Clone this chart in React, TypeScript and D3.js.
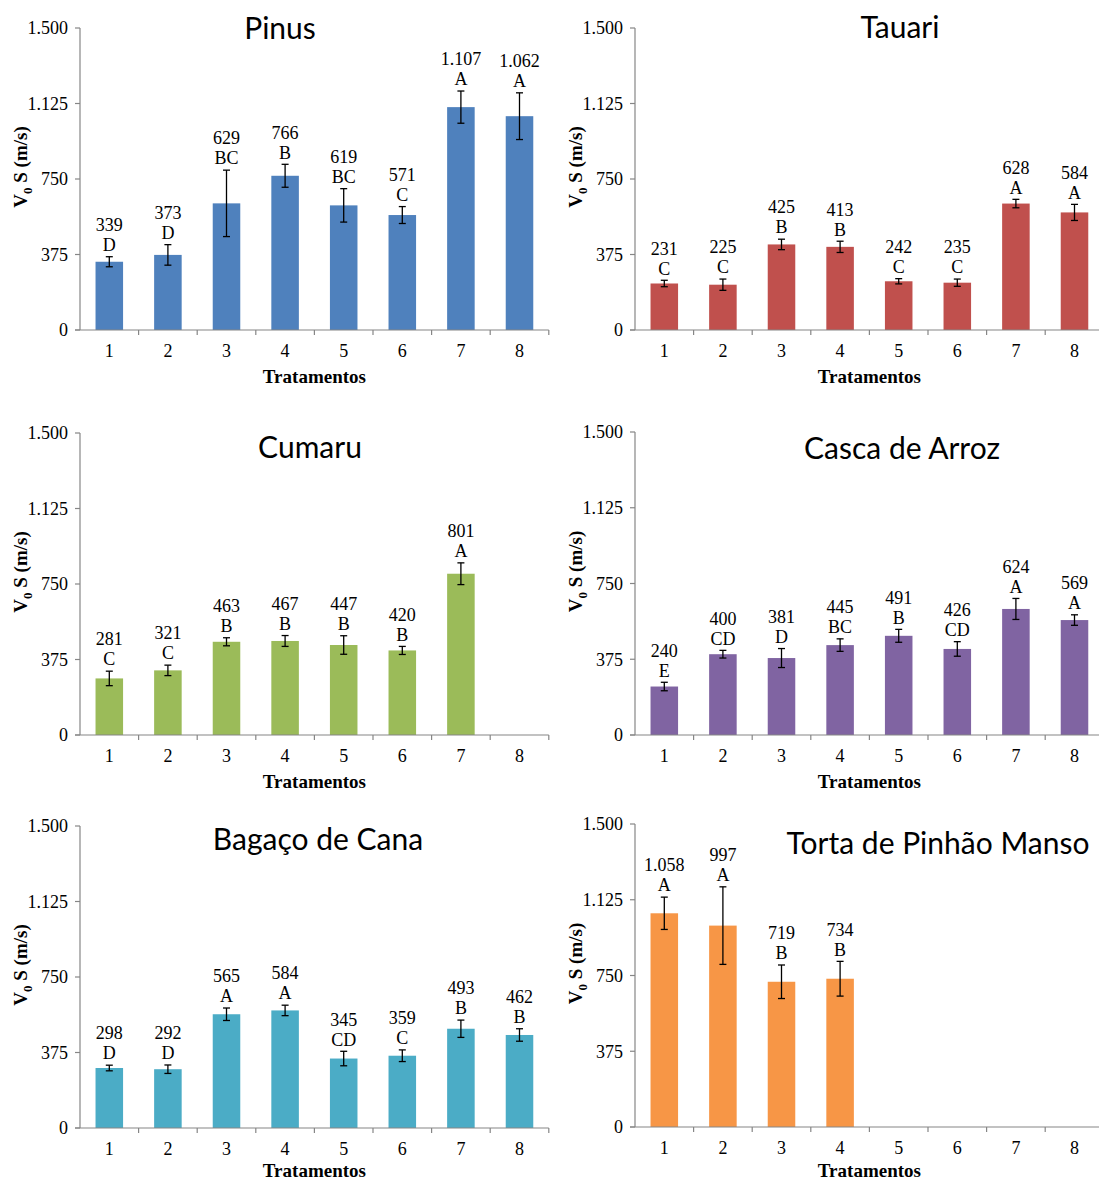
import React from "react";
import * as d3 from "d3";

const treatments = ["1", "2", "3", "4", "5", "6", "7", "8"];
const yTicks = [0, 375, 750, 1125, 1500];

const pinusMeans = [339, 373, 629, 766, 619, 571, 1107, 1062];
const pinusErr = [25, 51, 165, 57, 83, 42, 80, 116];
const pinusLetters = ["D", "D", "BC", "B", "BC", "C", "A", "A"];

const tauariMeans = [231, 225, 425, 413, 242, 235, 628, 584];
const tauariErr = [16, 28, 26, 28, 13, 18, 21, 40];
const tauariLetters = ["C", "C", "B", "B", "C", "C", "A", "A"];

const cumaruMeans = [281, 321, 463, 467, 447, 420, 801];
const cumaruErr = [36, 26, 20, 27, 46, 20, 54];
const cumaruLetters = ["C", "C", "B", "B", "B", "B", "A"];

const cascaMeans = [240, 400, 381, 445, 491, 426, 624, 569];
const cascaErr = [21, 19, 47, 31, 32, 36, 52, 26];
const cascaLetters = ["E", "CD", "D", "BC", "B", "CD", "A", "A"];

const bagacoMeans = [298, 292, 565, 584, 345, 359, 493, 462];
const bagacoErr = [14, 21, 31, 26, 36, 29, 43, 31];
const bagacoLetters = ["D", "D", "A", "A", "CD", "C", "B", "B"];

const tortaMeans = [1058, 997, 719, 734];
const tortaErr = [80, 192, 83, 86];
const tortaLetters = ["A", "A", "B", "B"];

const titles = ["Pinus", "Tauari", "Cumaru", "Casca de Arroz", "Bagaço de Cana", "Torta de Pinhão Manso"];
const colors = ["#4F81BD", "#C0504D", "#9BBB59", "#8064A2", "#4BACC6", "#F79646"];

const panelData = [
  { means: pinusMeans, err: pinusErr, letters: pinusLetters },
  { means: tauariMeans, err: tauariErr, letters: tauariLetters },
  { means: cumaruMeans, err: cumaruErr, letters: cumaruLetters },
  { means: cascaMeans, err: cascaErr, letters: cascaLetters },
  { means: bagacoMeans, err: bagacoErr, letters: bagacoLetters },
  { means: tortaMeans, err: tortaErr, letters: tortaLetters },
];

// layout: axis x, top (1500), bottom (0), title center x, title baseline y
const layout = [
  { x0: 80, top: 28, bottom: 330, tx: 280, ty: 39 },
  { x0: 635, top: 28, bottom: 330, tx: 900, ty: 38 },
  { x0: 80, top: 433, bottom: 735, tx: 310, ty: 458 },
  { x0: 635, top: 432, bottom: 735, tx: 902, ty: 459 },
  { x0: 80, top: 826, bottom: 1128, tx: 318, ty: 850 },
  { x0: 635, top: 824, bottom: 1127, tx: 938, ty: 854 },
];

const loc = d3.formatLocale({ decimal: ",", thousands: ".", grouping: [3], currency: ["R$", ""] });
const fmt = loc.format(",d");

const W = 1099;
const H = 1182;
const STEP = 58.6;
const AXIS = "#868686";
const SERIF = "'Liberation Serif', 'Times New Roman', serif";
const SANS = "Lato, 'Open Sans', sans-serif";

function Panel({ idx }: { idx: number }) {
  const L = layout[idx];
  const D = panelData[idx];
  const x = d3
    .scaleBand<string>()
    .domain(treatments)
    .range([L.x0, L.x0 + STEP * treatments.length])
    .paddingInner(0.53)
    .paddingOuter(0.265);
  const y = d3.scaleLinear().domain([0, 1500]).range([L.bottom, L.top]);
  const xEnd = L.x0 + STEP * treatments.length;
  const bw = x.bandwidth();
  const cx = (c: string) => (x(c) as number) + bw / 2;
  const midY = (L.top + L.bottom) / 2;
  const xTitleY = Math.min(L.bottom + 46, H - 12);
  return (
    <g>
      {D.means.map((v, i) => (
        <rect
          key={"b" + i}
          x={x(treatments[i])}
          y={y(v)}
          width={bw}
          height={y(0) - y(v)}
          fill={colors[idx]}
        />
      ))}
      <line x1={L.x0} x2={L.x0} y1={L.top} y2={L.bottom} stroke={AXIS} strokeWidth={1.2} />
      <line x1={L.x0 - 5} x2={xEnd} y1={L.bottom} y2={L.bottom} stroke={AXIS} strokeWidth={1.2} />
      {yTicks.map((t) => (
        <g key={"yt" + t}>
          <line x1={L.x0 - 5} x2={L.x0} y1={y(t)} y2={y(t)} stroke={AXIS} strokeWidth={1.2} />
          <text
            x={L.x0 - 12}
            y={y(t)}
            dy="0.35em"
            textAnchor="end"
            fontFamily={SERIF}
            fontSize={18}
            fill="#000"
          >
            {fmt(t)}
          </text>
        </g>
      ))}
      {treatments.map((c, i) => (
        <line
          key={"xt" + i}
          x1={L.x0 + STEP * (i + 1)}
          x2={L.x0 + STEP * (i + 1)}
          y1={L.bottom}
          y2={L.bottom + 5}
          stroke={AXIS}
          strokeWidth={1.2}
        />
      ))}
      {treatments.map((c) => (
        <text
          key={"xl" + c}
          x={cx(c)}
          y={L.bottom + 21}
          dy="0.35em"
          textAnchor="middle"
          fontFamily={SERIF}
          fontSize={18}
          fill="#000"
        >
          {c}
        </text>
      ))}
      {D.means.map((v, i) => {
        const c = cx(treatments[i]);
        const e = D.err[i];
        return (
          <g key={"e" + i} stroke="#000" strokeWidth={1.3}>
            <line x1={c} x2={c} y1={y(v + e)} y2={y(v - e)} />
            <line x1={c - 3.5} x2={c + 3.5} y1={y(v + e)} y2={y(v + e)} />
            <line x1={c - 3.5} x2={c + 3.5} y1={y(v - e)} y2={y(v - e)} />
          </g>
        );
      })}
      {D.means.map((v, i) => {
        const c = cx(treatments[i]);
        const top = y(v + D.err[i]);
        return (
          <g key={"l" + i} fontFamily={SERIF} fontSize={18} fill="#000" textAnchor="middle">
            <text x={c} y={top - 32} dy="0.35em">
              {fmt(v)}
            </text>
            <text x={c} y={top - 12} dy="0.35em">
              {D.letters[i]}
            </text>
          </g>
        );
      })}
      <text x={L.tx} y={L.ty} textAnchor="middle" fontFamily={SANS} fontSize={30} fill="#000">
        {titles[idx]}
      </text>
      <text
        transform={`translate(${L.x0 - 60},${midY - 12}) rotate(-90)`}
        textAnchor="middle"
        dy="0.35em"
        fontFamily={SERIF}
        fontSize={19}
        fontWeight="bold"
        fill="#000"
      >
        V<tspan fontSize={13} dy="5">0</tspan>
        <tspan dy="-5"> S (m/s)</tspan>
      </text>
      <text
        x={L.x0 + (STEP * treatments.length) / 2}
        y={xTitleY}
        dy="0.35em"
        textAnchor="middle"
        fontFamily={SERIF}
        fontSize={19}
        fontWeight="bold"
        fill="#000"
      >
        Tratamentos
      </text>
    </g>
  );
}

export default function App() {
  return (
    <svg
      width={W}
      height={H}
      style={{ position: "absolute", left: 0, top: 0, background: "#fff" }}
    >
      <rect width={W} height={H} fill="#fff" />
      {titles.map((t, i) => (
        <Panel key={t} idx={i} />
      ))}
    </svg>
  );
}
